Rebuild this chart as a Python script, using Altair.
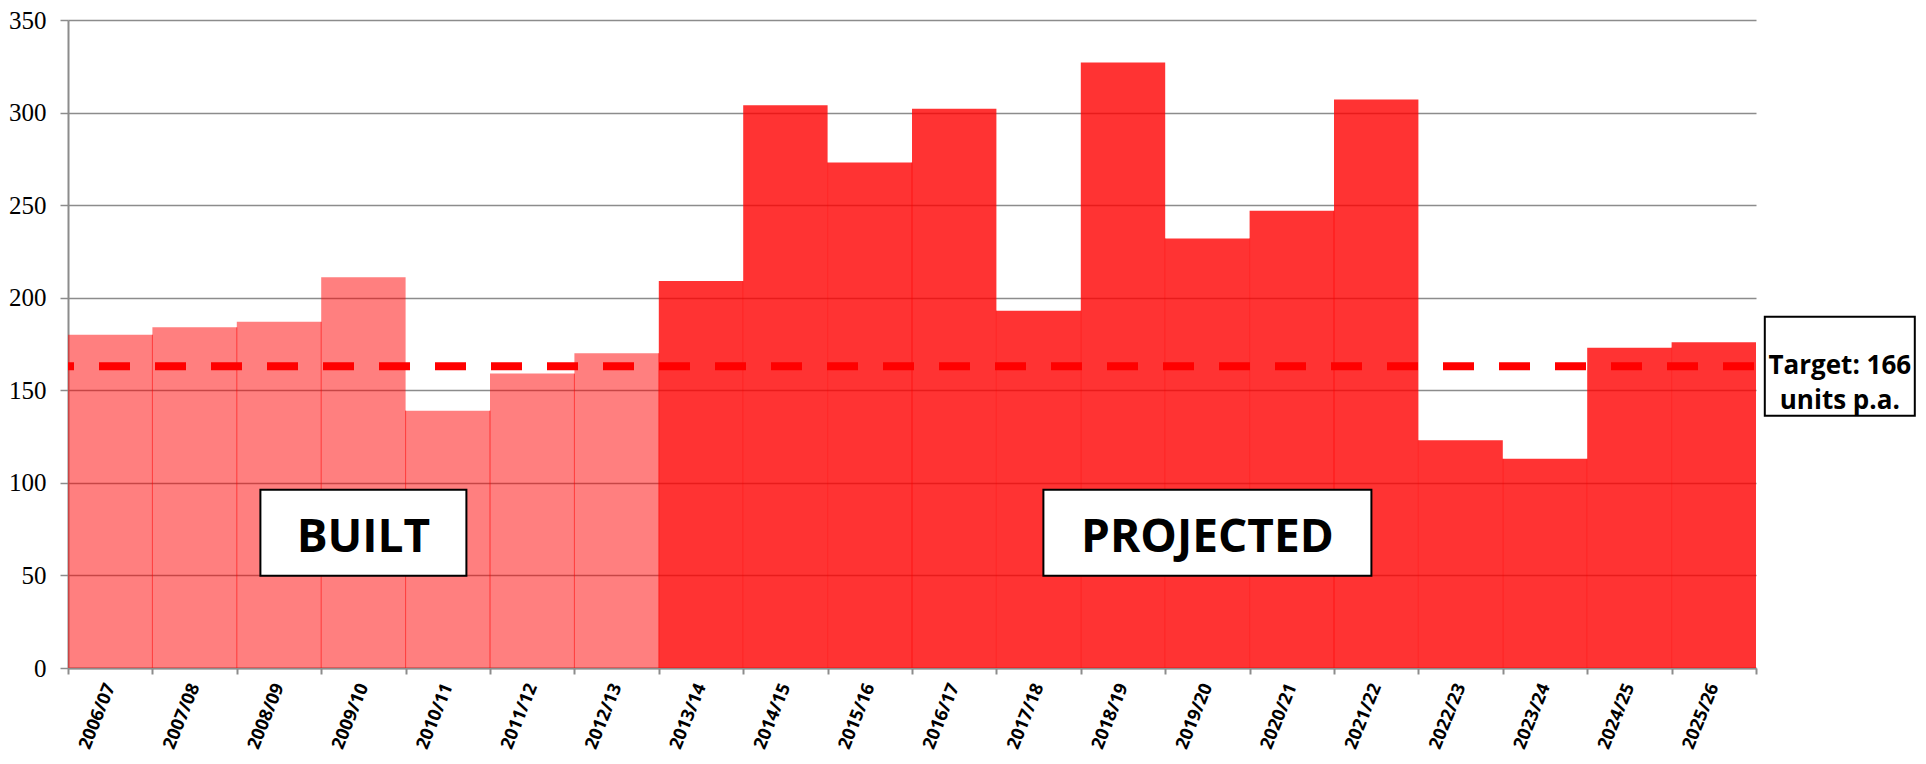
import altair as alt
import pandas as pd

years = ["2006/07", "2007/08", "2008/09", "2009/10", "2010/11", "2011/12", "2012/13",
         "2013/14", "2014/15", "2015/16", "2016/17", "2017/18", "2018/19", "2019/20",
         "2020/21", "2021/22", "2022/23", "2023/24", "2024/25", "2025/26"]
units = [180, 184, 187, 211, 139, 159, 170, 209, 304, 273, 302, 193, 327, 232, 247, 307,
         123, 113, 173, 176]
status = ["Built"] * 7 + ["Projected"] * 13

target_value = 163
target_text = "Target: 166\nunits p.a."
target_year = "2025/26"

box_labels = ["BUILT", "PROJECTED"]
box_years = ["2009/10", "2019/20"]
box_values = [73, 73]

y_ticks = [0, 50, 100, 150, 200, 250, 300, 350]

df = pd.DataFrame({"year": years, "units": units, "status": status})
edges_df = pd.DataFrame({
    "year": years[1:],
    "low": [min(a, b) for a, b in zip(units[:-1], units[1:])],
    "base": [0] * (len(years) - 1),
})
target_df = pd.DataFrame({"t": [target_value], "year": [target_year], "label": [target_text]})
box_df = pd.DataFrame({"year": box_years, "v": box_values, "label": box_labels})

xscale = alt.Scale(paddingInner=0, paddingOuter=0)
yscale = alt.Scale(domain=[0, 350], nice=False)

def X(**kw):
    return alt.X("year:N", sort=years, scale=xscale, title=None, **kw)

bars = alt.Chart(df).mark_bar(color="#FF0000").encode(
    x=X(axis=alt.Axis(labelAngle=-68, tickBand="extent")),
    y=alt.Y("units:Q", scale=yscale, title=None, axis=alt.Axis(values=y_ticks)),
    opacity=alt.Opacity("status:N", scale=alt.Scale(domain=["Built", "Projected"], range=[0.5, 0.8]),
                        legend=None),
)

edges = alt.Chart(edges_df).mark_rule(color="#FF0000", strokeWidth=1, opacity=0.6).encode(
    x=alt.X("year:N", sort=years, scale=xscale, title=None, bandPosition=0),
    y=alt.Y("low:Q", scale=yscale, title=None),
    y2="base:Q",
)

target = alt.Chart(target_df).mark_rule(
    color="#FF0000", strokeWidth=8, strokeDash=[31, 25], strokeDashOffset=54
).encode(y=alt.Y("t:Q", scale=yscale, title=None))

built_box = alt.Chart(box_df.iloc[[0]]).mark_point(
    shape="M-1,-0.4175H1V0.4175H-1Z", size=42436, filled=True, fill="white",
    stroke="black", strokeWidth=2, opacity=1
).encode(x=X(), y=alt.Y("v:Q", scale=yscale, title=None))

proj_box = alt.Chart(box_df.iloc[[1]]).mark_point(
    shape="M-1,-0.2622H1V0.2622H-1Z", size=107584, filled=True, fill="white",
    stroke="black", strokeWidth=2, opacity=1
).encode(x=X(), y=alt.Y("v:Q", scale=yscale, title=None))

box_text = alt.Chart(box_df).mark_text(
    font="Open Sans", fontSize=46, fontWeight="bold", color="black",
    align="center", baseline="alphabetic", dy=19
).encode(x=X(), y=alt.Y("v:Q", scale=yscale, title=None), text="label:N")

target_box = alt.Chart(target_df).mark_point(
    shape="M0.68,-0.66H2.68V0.66H0.68Z", size=22500, filled=True, fill="white",
    stroke="black", strokeWidth=2, opacity=1
).encode(x=X(), y=alt.Y("t:Q", scale=yscale, title=None))

target_label = alt.Chart(target_df).mark_text(
    font="Open Sans", fontSize=26, fontWeight="bold", color="black",
    align="center", baseline="middle", lineBreak="\n", lineHeight=35, dx=126
).encode(x=X(), y=alt.Y("t:Q", scale=yscale, title=None), text="label:N")

chart = alt.layer(
    bars, edges, target, built_box, proj_box, box_text, target_box, target_label
).properties(
    width=1688, height=648,
    autosize=alt.AutoSizeParams(type="none"),
    padding={"left": 60, "top": 12, "right": 160, "bottom": 88},
).configure_view(stroke=None).configure_axisY(
    grid=True, gridColor="#8c8c8c", gridWidth=1.5,
    domainColor="#8c8c8c", domainWidth=2,
    tickColor="#8c8c8c", tickSize=8, tickWidth=1.5,
    labelFont="Liberation Serif, DejaVu Serif, Times, serif", labelFontSize=25,
    labelColor="black", labelPadding=14,
).configure_axisX(
    grid=False, domainColor="#8c8c8c", domainWidth=2,
    tickColor="#8c8c8c", tickSize=6, tickWidth=2,
    labelFont="Open Sans", labelFontSize=18, labelFontWeight="bold", labelColor="black",
    labelPadding=10,
)

chart.save("out.html", embed_options={"renderer": "svg", "actions": False})
